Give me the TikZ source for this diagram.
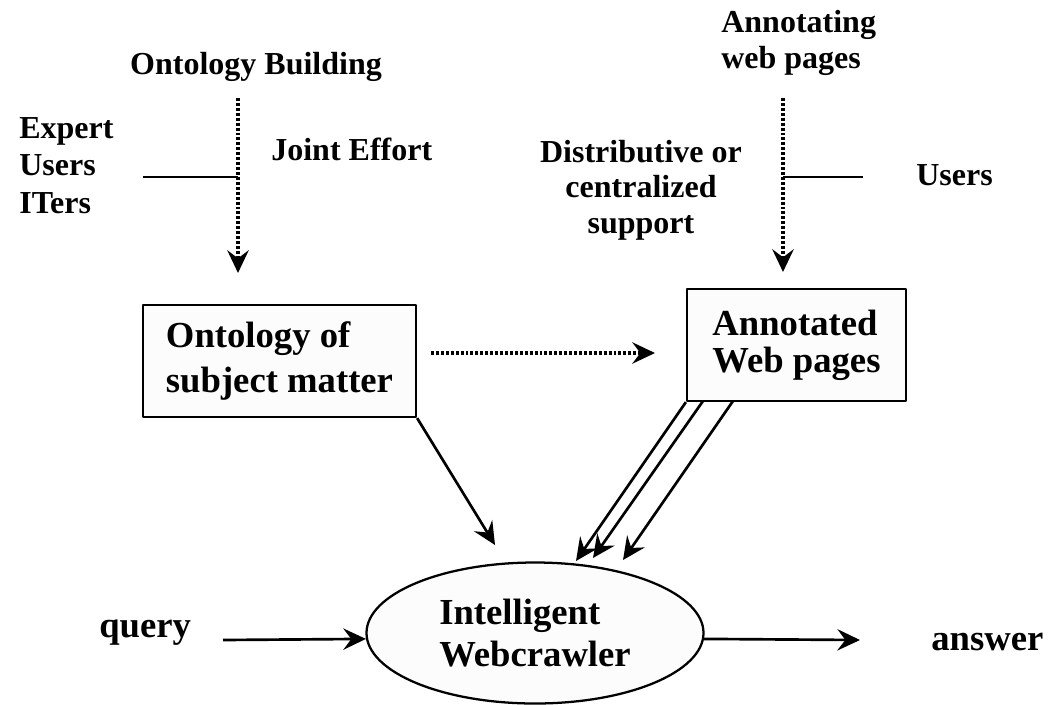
\documentclass[tikz,border=0pt]{standalone}
\usepackage{fontspec}
\setmainfont{Liberation Serif}
\usetikzlibrary{shapes.geometric,arrows.meta}
\begin{document}
\begin{tikzpicture}[x=0.75pt, y=-0.75pt, line width=2pt, line join=round,
    >={Stealth[length=17pt,width=16pt,inset=6pt]},
    lbl/.style={inner sep=0pt, font=\fontsize{24}{27}\bfseries\selectfont},
    big/.style={inner sep=0pt, font=\fontsize{27.5}{33}\bfseries\selectfont},
    box/.style={draw, line width=1.7pt, fill=black!1, align=left, inner sep=0pt},
    dots/.style={line width=2.6pt, dash pattern=on 2.2pt off 1.5pt}]
\useasboundingbox (0,0) rectangle (1048,704);
% boxes
\node[box, minimum width=204.75pt, minimum height=84pt,
      font=\fontsize{27.5}{33.75}\bfseries\selectfont] (onto) at (279.5,361) {Ontology of\\subject matter};
\node[box, minimum width=164.25pt, minimum height=84pt,
      font=\fontsize{27.5}{28}\bfseries\selectfont] (annot) at (796.5,345) {Annotated\\Web pages};
\node[ellipse, draw, line width=1.7pt, fill=black!1, minimum width=252.75pt, minimum height=105.75pt,
      inner sep=0pt, align=left, font=\fontsize{27.5}{32}\bfseries\selectfont] (crawler) at (535,633) {Intelligent\\Webcrawler};
% labels (base = last line)
\node[lbl, anchor=base] (build) at (256,74) {Ontology Building};
\node[lbl, anchor=base west, align=left, font=\fontsize{24}{28}\bfseries\selectfont] (who) at (18,213) {Expert\\Users\\ITers};
\node[lbl, anchor=base west] (joint) at (270,160) {Joint Effort};
\node[lbl, anchor=base west, align=left] (annoting) at (720,68) {Annotating\\web pages};
\node[lbl, anchor=base, align=center, font=\fontsize{24}{26.6}\bfseries\selectfont] (support) at (641,233) {Distributive or\\centralized\\support};
\node[lbl, anchor=base west] (users) at (915,185) {Users};
\node[big, anchor=base west] (query) at (98,637) {query};
\node[big, anchor=base west] (answer) at (930,650) {answer};
% free ends
\coordinate (ltop) at (238,98);
\coordinate (lmid) at (238,177);
\coordinate (lend) at (238,273);
\coordinate (lside) at (143,177);
\coordinate (rtop) at (783,98);
\coordinate (rmid) at (783,177);
\coordinate (rend) at (783,272);
\coordinate (rside) at (863,177);
\coordinate (hstart) at (431,353);
\coordinate (hend) at (655,353);
\coordinate (otip) at (495,545);
\coordinate (a2) at (703,401);
\coordinate (a3) at (733,401);
\coordinate (t1) at (576,561);
\coordinate (t2) at (593,558);
\coordinate (t3) at (623,560);
\coordinate (qin) at (223,640);
\coordinate (aout) at (860,640);
% connectors
\draw[dots, ->] (ltop) -- (lend);
\draw (lside) -- (lmid);
\draw[dots, ->] (rtop) -- (rend);
\draw (rmid) -- (rside);
\draw[dots, ->] (hstart) -- (hend);
\draw[->] (onto.south east) -- (otip);
\draw[->] (annot.south west) -- (t1);
\draw[->] (a2) -- (t2);
\draw[->] (a3) -- (t3);
\draw[->] (qin) -- (crawler.182);
\draw[->] (crawler.358) -- (aout);
\end{tikzpicture}
\end{document}
